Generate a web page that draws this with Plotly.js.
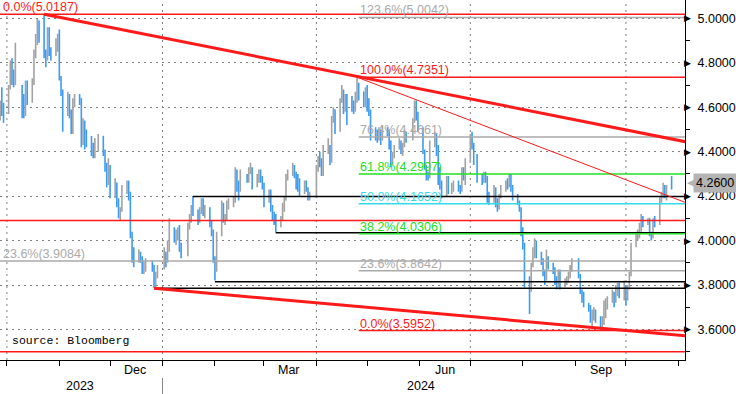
<!DOCTYPE html>
<html>
<head>
<meta charset="utf-8">
<script src="https://cdn.plot.ly/plotly-3.0.1.min.js"></script>
<style>html,body{margin:0;padding:0;background:#fff;}#chart{width:736px;height:394px;}</style>
</head>
<body>
<div id="chart"></div>
<script>
// ---------- DATA ----------
const dates = [
'2023-09-27','2023-09-28','2023-09-29',
'2023-10-02','2023-10-03','2023-10-04','2023-10-05','2023-10-06','2023-10-10','2023-10-11','2023-10-12','2023-10-13','2023-10-16','2023-10-17','2023-10-18','2023-10-19','2023-10-20','2023-10-23','2023-10-24','2023-10-25','2023-10-26','2023-10-27','2023-10-30','2023-10-31',
'2023-11-01','2023-11-02','2023-11-03','2023-11-06','2023-11-07','2023-11-08','2023-11-09','2023-11-10','2023-11-13','2023-11-14','2023-11-15','2023-11-16','2023-11-17','2023-11-20','2023-11-21','2023-11-22','2023-11-24','2023-11-27','2023-11-28','2023-11-29','2023-11-30',
'2023-12-01','2023-12-04','2023-12-05','2023-12-06','2023-12-07','2023-12-08','2023-12-11','2023-12-12','2023-12-13','2023-12-14','2023-12-15','2023-12-18','2023-12-19','2023-12-20','2023-12-21','2023-12-22','2023-12-26','2023-12-27','2023-12-28','2023-12-29',
'2024-01-02','2024-01-03','2024-01-04','2024-01-05','2024-01-08','2024-01-09','2024-01-10','2024-01-11','2024-01-12','2024-01-16','2024-01-17','2024-01-18','2024-01-19','2024-01-22','2024-01-23','2024-01-24','2024-01-25','2024-01-26','2024-01-29','2024-01-30','2024-01-31',
'2024-02-01','2024-02-02','2024-02-05','2024-02-06','2024-02-07','2024-02-08','2024-02-09','2024-02-12','2024-02-13','2024-02-14','2024-02-15','2024-02-16','2024-02-20','2024-02-21','2024-02-22','2024-02-23','2024-02-26','2024-02-27','2024-02-28','2024-02-29',
'2024-03-01','2024-03-04','2024-03-05','2024-03-06','2024-03-07','2024-03-08','2024-03-11','2024-03-12','2024-03-13','2024-03-14','2024-03-15','2024-03-18','2024-03-19','2024-03-20','2024-03-21','2024-03-22','2024-03-25','2024-03-26','2024-03-27','2024-03-28',
'2024-04-01','2024-04-02','2024-04-03','2024-04-04','2024-04-05','2024-04-08','2024-04-09','2024-04-10','2024-04-11','2024-04-12','2024-04-15','2024-04-16','2024-04-17','2024-04-18','2024-04-19','2024-04-22','2024-04-23','2024-04-24','2024-04-25','2024-04-26','2024-04-29','2024-04-30',
'2024-05-01','2024-05-02','2024-05-03','2024-05-06','2024-05-07','2024-05-08','2024-05-09','2024-05-10','2024-05-13','2024-05-14','2024-05-15','2024-05-16','2024-05-17','2024-05-20','2024-05-21','2024-05-22','2024-05-23','2024-05-24','2024-05-28','2024-05-29','2024-05-30','2024-05-31',
'2024-06-03','2024-06-04','2024-06-05','2024-06-06','2024-06-07','2024-06-10','2024-06-11','2024-06-12','2024-06-13','2024-06-14','2024-06-17','2024-06-18','2024-06-20','2024-06-21','2024-06-24','2024-06-25','2024-06-26','2024-06-27','2024-06-28',
'2024-07-01','2024-07-02','2024-07-03','2024-07-05','2024-07-08','2024-07-09','2024-07-10','2024-07-11','2024-07-12','2024-07-15','2024-07-16','2024-07-17','2024-07-18','2024-07-19','2024-07-22','2024-07-23','2024-07-24','2024-07-25','2024-07-26','2024-07-29','2024-07-30','2024-07-31',
'2024-08-01','2024-08-02','2024-08-05','2024-08-06','2024-08-07','2024-08-08','2024-08-09','2024-08-12','2024-08-13','2024-08-14','2024-08-15','2024-08-16','2024-08-19','2024-08-20','2024-08-21','2024-08-22','2024-08-23','2024-08-26','2024-08-27','2024-08-28','2024-08-29','2024-08-30',
'2024-09-03','2024-09-04','2024-09-05','2024-09-06','2024-09-09','2024-09-10','2024-09-11','2024-09-12','2024-09-13','2024-09-16','2024-09-17','2024-09-18','2024-09-19','2024-09-20','2024-09-23','2024-09-24','2024-09-25','2024-09-26','2024-09-27','2024-09-30',
'2024-10-01','2024-10-02','2024-10-03','2024-10-04','2024-10-07','2024-10-08','2024-10-09','2024-10-10','2024-10-11','2024-10-14','2024-10-15','2024-10-16','2024-10-17','2024-10-18','2024-10-21','2024-10-22','2024-10-23','2024-10-24','2024-10-25','2024-10-28'
];
const open = [
4.56,4.62,4.57,
4.59,4.69,4.80,4.73,4.72,4.68,4.65,4.57,4.70,4.64,4.71,4.83,4.91,4.99,4.92,4.85,4.82,4.95,4.85,4.84,4.88,
4.93,4.73,4.66,4.57,4.65,4.57,4.49,4.63,4.65,4.64,4.44,4.53,4.44,4.44,4.42,4.40,4.41,4.47,4.39,4.33,4.26,
4.33,4.22,4.26,4.17,4.11,4.14,4.23,4.24,4.20,4.02,3.91,3.91,3.93,3.92,3.86,3.89,3.90,3.89,3.79,3.85,
3.88,3.94,3.91,3.99,4.05,4.01,4.02,4.03,3.97,3.94,4.07,4.10,4.14,4.12,4.10,4.13,4.18,4.12,4.14,4.08,4.03,
3.91,3.87,4.03,4.16,4.09,4.10,4.17,4.18,4.18,4.31,4.26,4.23,4.28,4.27,4.32,4.32,4.25,4.28,4.31,4.27,
4.25,4.18,4.22,4.14,4.10,4.08,4.08,4.10,4.15,4.19,4.29,4.31,4.33,4.29,4.27,4.27,4.22,4.25,4.23,4.19,
4.20,4.33,4.36,4.35,4.31,4.40,4.42,4.36,4.55,4.59,4.50,4.63,4.67,4.59,4.64,4.62,4.62,4.60,4.65,4.70,4.67,4.61,
4.68,4.63,4.58,4.50,4.49,4.46,4.49,4.46,4.50,4.49,4.44,4.35,4.38,4.42,4.44,4.41,4.43,4.48,4.46,4.54,4.62,4.55,
4.50,4.40,4.33,4.29,4.29,4.43,4.47,4.40,4.31,4.24,4.21,4.28,4.22,4.25,4.26,4.23,4.23,4.32,4.29,
4.36,4.47,4.43,4.35,4.28,4.28,4.30,4.28,4.20,4.18,4.23,4.16,4.15,4.20,4.24,4.26,4.25,4.28,4.24,4.19,4.17,4.14,
4.03,3.98,3.79,3.78,3.89,3.96,3.99,3.94,3.90,3.85,3.83,3.91,3.89,3.87,3.81,3.80,3.86,3.80,3.82,3.83,3.84,3.87,
3.91,3.84,3.77,3.73,3.71,3.70,3.64,3.65,3.68,3.65,3.62,3.64,3.70,3.71,3.73,3.75,3.73,3.78,3.79,3.75,
3.78,3.74,3.79,3.85,3.98,4.03,4.03,4.06,4.09,4.08,4.10,4.03,4.02,4.09,4.08,4.19,4.20,4.24,4.21,4.27
];
const high = [
4.63,4.69,4.62,
4.70,4.81,4.82,4.77,4.89,4.70,4.66,4.72,4.72,4.73,4.86,4.93,4.998,4.99,5.0187,4.86,4.96,4.96,4.87,4.91,4.93,
4.95,4.74,4.68,4.67,4.66,4.59,4.64,4.66,4.66,4.64,4.55,4.54,4.50,4.47,4.44,4.46,4.48,4.47,4.41,4.35,4.37,
4.34,4.28,4.26,4.19,4.15,4.25,4.27,4.27,4.22,4.04,3.97,3.96,3.95,3.93,3.91,3.92,3.91,3.89,3.86,3.89,
3.97,3.95,4.00,4.10,4.06,4.05,4.06,4.07,3.99,4.08,4.12,4.16,4.198,4.14,4.15,4.19,4.19,4.16,4.15,4.09,4.05,
3.93,4.04,4.18,4.17,4.12,4.18,4.19,4.20,4.33,4.32,4.27,4.32,4.30,4.33,4.35,4.33,4.30,4.32,4.32,4.29,
4.26,4.23,4.23,4.16,4.13,4.12,4.11,4.17,4.20,4.30,4.32,4.35,4.34,4.31,4.30,4.28,4.27,4.27,4.24,4.22,
4.34,4.38,4.40,4.37,4.43,4.46,4.43,4.56,4.60,4.59,4.64,4.70,4.68,4.66,4.66,4.65,4.63,4.67,4.7351,4.71,4.67,4.69,
4.70,4.64,4.59,4.51,4.50,4.51,4.50,4.52,4.51,4.50,4.45,4.40,4.43,4.46,4.45,4.44,4.50,4.49,4.55,4.63,4.63,4.58,
4.51,4.41,4.34,4.31,4.45,4.49,4.48,4.43,4.33,4.27,4.29,4.29,4.26,4.27,4.27,4.25,4.33,4.33,4.37,
4.48,4.49,4.44,4.39,4.30,4.31,4.31,4.29,4.22,4.25,4.24,4.19,4.21,4.25,4.27,4.28,4.30,4.30,4.25,4.21,4.18,4.15,
4.06,3.99,3.84,3.90,3.97,4.01,4.00,3.95,3.92,3.87,3.96,3.93,3.90,3.88,3.84,3.87,3.87,3.83,3.84,3.86,3.89,3.92,
3.92,3.85,3.78,3.77,3.72,3.71,3.69,3.70,3.69,3.66,3.66,3.73,3.74,3.75,3.78,3.77,3.80,3.81,3.81,3.82,
3.80,3.80,3.86,3.99,4.04,4.05,4.08,4.12,4.11,4.10,4.10,4.04,4.10,4.11,4.20,4.22,4.26,4.25,4.25,4.29
];
const low = [
4.54,4.56,4.53,
4.57,4.68,4.70,4.69,4.70,4.55,4.55,4.56,4.61,4.62,4.70,4.82,4.88,4.89,4.82,4.78,4.81,4.83,4.81,4.83,4.85,
4.72,4.65,4.49,4.56,4.55,4.48,4.48,4.60,4.61,4.42,4.43,4.41,4.42,4.38,4.37,4.37,4.40,4.38,4.31,4.24,4.25,
4.19,4.19,4.15,4.10,4.09,4.13,4.21,4.18,4.01,3.90,3.88,3.90,3.90,3.85,3.85,3.86,3.86,3.785,3.79,3.83,
3.87,3.88,3.90,3.95,3.99,3.98,4.00,3.95,3.92,3.93,4.05,4.08,4.11,4.07,4.08,4.12,4.11,4.10,4.06,4.02,3.90,
3.82,3.86,4.02,4.08,4.07,4.09,4.14,4.15,4.17,4.22,4.18,4.22,4.26,4.26,4.30,4.23,4.24,4.26,4.26,4.23,
4.15,4.17,4.13,4.09,4.07,4.035,4.06,4.09,4.13,4.18,4.27,4.29,4.28,4.23,4.22,4.20,4.21,4.22,4.18,4.18,
4.19,4.31,4.33,4.29,4.29,4.39,4.34,4.35,4.53,4.48,4.49,4.62,4.57,4.58,4.52,4.58,4.57,4.58,4.62,4.63,4.60,4.60,
4.58,4.56,4.45,4.45,4.44,4.45,4.43,4.45,4.47,4.41,4.33,4.34,4.37,4.41,4.39,4.38,4.42,4.44,4.45,4.53,4.54,4.49,
4.39,4.32,4.27,4.27,4.28,4.42,4.38,4.25,4.23,4.19,4.20,4.21,4.21,4.22,4.22,4.21,4.22,4.27,4.25,
4.35,4.41,4.34,4.26,4.25,4.26,4.26,4.17,4.16,4.17,4.15,4.13,4.14,4.19,4.22,4.23,4.24,4.22,4.18,4.16,4.13,4.02,
3.96,3.79,3.67,3.77,3.88,3.92,3.92,3.89,3.84,3.80,3.82,3.87,3.85,3.80,3.78,3.79,3.78,3.79,3.80,3.81,3.83,3.86,
3.83,3.76,3.72,3.70,3.68,3.63,3.60,3.64,3.63,3.60,3.5952,3.62,3.65,3.69,3.72,3.70,3.72,3.75,3.74,3.73,
3.71,3.73,3.78,3.84,3.97,4.00,4.01,4.04,4.06,4.07,4.02,4.00,4.01,4.06,4.07,4.17,4.19,4.19,4.18,4.23
];
const close = [
4.61,4.58,4.57,
4.68,4.80,4.73,4.71,4.78,4.65,4.56,4.70,4.62,4.71,4.83,4.91,4.99,4.91,4.84,4.82,4.95,4.85,4.84,4.88,4.93,
4.73,4.66,4.57,4.65,4.57,4.49,4.63,4.65,4.64,4.44,4.53,4.44,4.44,4.42,4.40,4.41,4.47,4.39,4.33,4.26,4.33,
4.22,4.26,4.17,4.11,4.14,4.23,4.24,4.20,4.02,3.91,3.91,3.93,3.92,3.86,3.89,3.90,3.89,3.79,3.85,3.88,
3.94,3.91,3.99,4.05,4.01,4.02,4.03,3.97,3.94,4.07,4.10,4.14,4.12,4.10,4.13,4.18,4.12,4.14,4.08,4.03,3.91,
3.87,4.03,4.16,4.09,4.10,4.17,4.18,4.18,4.31,4.26,4.23,4.28,4.27,4.32,4.32,4.25,4.28,4.31,4.27,4.25,
4.18,4.22,4.14,4.10,4.08,4.08,4.10,4.15,4.19,4.29,4.31,4.33,4.29,4.27,4.27,4.22,4.25,4.23,4.19,4.20,
4.33,4.36,4.35,4.31,4.40,4.42,4.36,4.55,4.59,4.50,4.63,4.67,4.59,4.64,4.62,4.62,4.60,4.65,4.70,4.67,4.61,4.68,
4.63,4.58,4.50,4.49,4.46,4.49,4.46,4.50,4.49,4.44,4.35,4.38,4.42,4.44,4.41,4.43,4.48,4.46,4.54,4.62,4.55,4.50,
4.40,4.33,4.29,4.29,4.43,4.47,4.40,4.31,4.24,4.21,4.28,4.22,4.25,4.26,4.23,4.23,4.32,4.29,4.36,
4.47,4.43,4.35,4.28,4.28,4.30,4.28,4.20,4.18,4.23,4.16,4.15,4.20,4.24,4.26,4.25,4.28,4.24,4.19,4.17,4.14,4.03,
3.98,3.79,3.78,3.89,3.96,3.99,3.94,3.90,3.85,3.83,3.91,3.89,3.87,3.81,3.80,3.86,3.80,3.82,3.83,3.84,3.87,3.91,
3.84,3.77,3.73,3.71,3.70,3.64,3.65,3.68,3.65,3.62,3.64,3.70,3.71,3.73,3.75,3.73,3.78,3.79,3.75,3.78,
3.74,3.79,3.85,3.98,4.03,4.03,4.06,4.09,4.08,4.10,4.03,4.02,4.09,4.08,4.19,4.20,4.24,4.21,4.24,4.26
];

// Fibonacci retracement (Apr-2024 high to Sep-2024 low)
const fibPct    = ['123.6%','100.0%','76.4%','61.8%','50.0%','38.2%','23.6%','0.0%'];
const fibLevels = [5.0042, 4.7351, 4.4661, 4.2997, 4.1652, 4.0306, 3.8642, 3.5952];
const fibStart  = '2024-04-26';

// Full-width levels (left labelled fib set + plain lines)
const fullPct    = ['0.0%', '', '23.6%', ''];
const fullLevels = [5.0187, 4.09, 3.9084, 3.50];

// Support / resistance lines from swing points
const srLevels = [4.198, 4.035, 3.815, 3.785];
const srStarts = ['2024-01-19', '2024-03-08', '2024-02-01', '2023-12-27'];

// Trend lines
const trendHighX  = ['2023-10-23', '2024-11-05'];
const trendHighY  = [5.0187, 4.445];
const trendMidX   = ['2024-04-25', '2024-11-05'];
const trendMidY   = [4.7351, 4.172];
const trendLowX   = ['2023-12-27', '2024-11-05'];
const trendLowY   = [3.785, 3.572];

const lastValue = 4.26;

// Axes
const yTicks = [3.6, 3.8, 4.0, 4.2, 4.4, 4.6, 4.8, 5.0];
const yMinor = [3.5, 3.7, 3.9, 4.1, 4.3, 4.5, 4.7, 4.9];
const monthStarts = ['2023-10-01','2023-11-01','2023-12-01','2024-01-01','2024-02-01','2024-03-01','2024-04-01','2024-05-01','2024-06-01','2024-07-01','2024-08-01','2024-09-01','2024-10-01','2024-11-01'];
const quarterStarts = ['2023-10-01','2024-01-01','2024-04-01','2024-07-01','2024-10-01'];
const monthLabels = ['Dec','Mar','Jun','Sep'];
const monthLabelDates = ['2023-12-16','2024-03-16','2024-06-16','2024-09-16'];
const yearLabels = ['2023','2024'];
const yearLabelDates = ['2023-11-13','2024-06-02'];
const yearBreak = '2024-01-01';

const X0 = '2023-09-26 22:00', X1 = '2024-11-04 22:00';
const XL = '2023-09-26', XR = '2024-11-05';

// ---------- STYLE ----------
const FONT = 'Liberation Sans, Arial, sans-serif';
const RED = '#ff1a1a', GRAY = '#aaaaaa', GREEN = '#22e022', CYAN = '#33dcea', BLACK = '#000000';
const fibColors = [GRAY, RED, GRAY, GREEN, CYAN, GREEN, GRAY, RED];
const fullColors = [RED, RED, GRAY, RED];

const traces = [];
traces.push({
  type: 'ohlc', x: dates, open: open, high: high, low: low, close: close,
  increasing: {line: {color: '#a2a2a2', width: 1.6}},
  decreasing: {line: {color: '#3d9bf2', width: 1.6}},
  tickwidth: 0.25, hoverinfo: 'skip', showlegend: false
});
function hline(x0, x1, y, color, w) {
  traces.push({type: 'scatter', mode: 'lines', x: [x0, x1], y: [y, y],
    line: {color: color, width: w}, hoverinfo: 'skip', showlegend: false});
}
fullLevels.forEach((v, i) => hline(XL, XR, v, fullColors[i], 1.5));
srLevels.forEach((v, i) => hline(srStarts[i], XR, v, BLACK, 1.5));
fibLevels.forEach((v, i) => hline(fibStart, XR, v, fibColors[i], 1.5));
[[trendHighX, trendHighY, 3], [trendMidX, trendMidY, 1], [trendLowX, trendLowY, 3]].forEach(t => {
  traces.push({type: 'scatter', mode: 'lines', x: t[0], y: t[1],
    line: {color: RED, width: t[2]}, hoverinfo: 'skip', showlegend: false});
});

const annotations = [];
fibLevels.forEach((v, i) => annotations.push({
  xref: 'x', yref: 'y', x: fibStart, y: v, xanchor: 'left', yanchor: 'bottom',
  text: fibPct[i] + '(' + v.toFixed(4) + ')', showarrow: false, borderpad: 0, yshift: -1,
  font: {family: FONT, size: 12.5, color: fibColors[i]}
}));
fullLevels.forEach((v, i) => { if (fullPct[i]) annotations.push({
  xref: 'paper', yref: 'y', x: 0, xshift: 2, y: v, xanchor: 'left', yanchor: 'bottom',
  text: fullPct[i] + '(' + v.toFixed(4) + ')', showarrow: false, borderpad: 0, yshift: -1,
  font: {family: FONT, size: 12.5, color: fullColors[i]}
}); });
yTicks.forEach(v => annotations.push({
  xref: 'paper', yref: 'y', x: 1, y: v, xanchor: 'left', yanchor: 'middle', xshift: -2,
  text: '\u25B6', showarrow: false, borderpad: 0,
  font: {family: 'DejaVu Sans', size: 9, color: '#000'}
}));
monthLabels.forEach((m, i) => annotations.push({
  xref: 'x', yref: 'paper', x: monthLabelDates[i], y: -0.028, yanchor: 'middle',
  text: m, showarrow: false, font: {family: FONT, size: 12.5, color: '#000'}
}));
yearLabels.forEach((m, i) => annotations.push({
  xref: 'x', yref: 'paper', x: yearLabelDates[i], y: -0.072, yanchor: 'middle',
  text: m, showarrow: false, font: {family: FONT, size: 12.5, color: '#000'}
}));
annotations.push({
  xref: 'paper', yref: 'paper', x: 0, xshift: 10, y: 0.053, xanchor: 'left', yanchor: 'middle',
  text: 'source: Bloomberg', showarrow: false,
  font: {family: 'Liberation Mono, Courier New, monospace', size: 11.5, color: '#000'}
});
annotations.push({
  xref: 'paper', yref: 'y', x: 1, xshift: 1, y: lastValue, xanchor: 'left', yanchor: 'middle',
  text: '\u25C0', showarrow: false, borderpad: 0,
  font: {family: 'DejaVu Sans', size: 11, color: '#b4b4b4'}
});
annotations.push({
  xref: 'paper', yref: 'y', x: 1, xshift: 8, y: lastValue, xanchor: 'left', yanchor: 'middle',
  text: lastValue.toFixed(4), showarrow: false, bgcolor: '#b4b4b4', borderpad: 2,
  font: {family: FONT, size: 12.5, color: '#000'}
});

const shapes = quarterStarts.map(d => ({
  type: 'line', xref: 'x', yref: 'paper', x0: d, x1: d, y0: 0, y1: 1, layer: 'below',
  line: {color: '#808080', width: 1, dash: '2px,4px'}
}));
shapes.push({type: 'line', xref: 'x', yref: 'paper', x0: yearBreak, x1: yearBreak, y0: -0.05, y1: -0.1,
  line: {color: '#888', width: 1}});

const layout = {
  width: 736, height: 394,
  margin: {l: 0, r: 51, t: 0, b: 34, pad: 0},
  paper_bgcolor: '#fff', plot_bgcolor: '#fff', showlegend: false,
  font: {family: FONT, size: 12.5, color: '#000'},
  xaxis: {
    type: 'date', range: [X0, X1], rangeslider: {visible: false},
    showgrid: false, zeroline: false, showline: true, linecolor: '#000', linewidth: 1,
    tickmode: 'array', tickvals: monthStarts, ticktext: monthStarts.map(() => ''),
    ticks: 'outside', ticklen: 5, tickcolor: '#000', tickwidth: 1, fixedrange: true
  },
  yaxis: {
    side: 'right', range: [3.4626, 5.0825], zeroline: false,
    showline: true, linecolor: '#000', linewidth: 1,
    tickmode: 'array', tickvals: yTicks, ticktext: yTicks.map(v => v.toFixed(4)),
    ticks: '', ticklabelstandoff: 9, tickfont: {family: FONT, size: 12.5, color: '#000'},
    showgrid: true, gridcolor: '#808080', gridwidth: 1, griddash: '2px,4px',
    minor: {tickvals: yMinor, ticks: 'outside', ticklen: 4, tickcolor: '#000', tickwidth: 1, showgrid: false},
    fixedrange: true
  },
  shapes: shapes,
  annotations: annotations
};

Plotly.newPlot('chart', traces, layout, {displayModeBar: false, staticPlot: true});
</script>
</body>
</html>
